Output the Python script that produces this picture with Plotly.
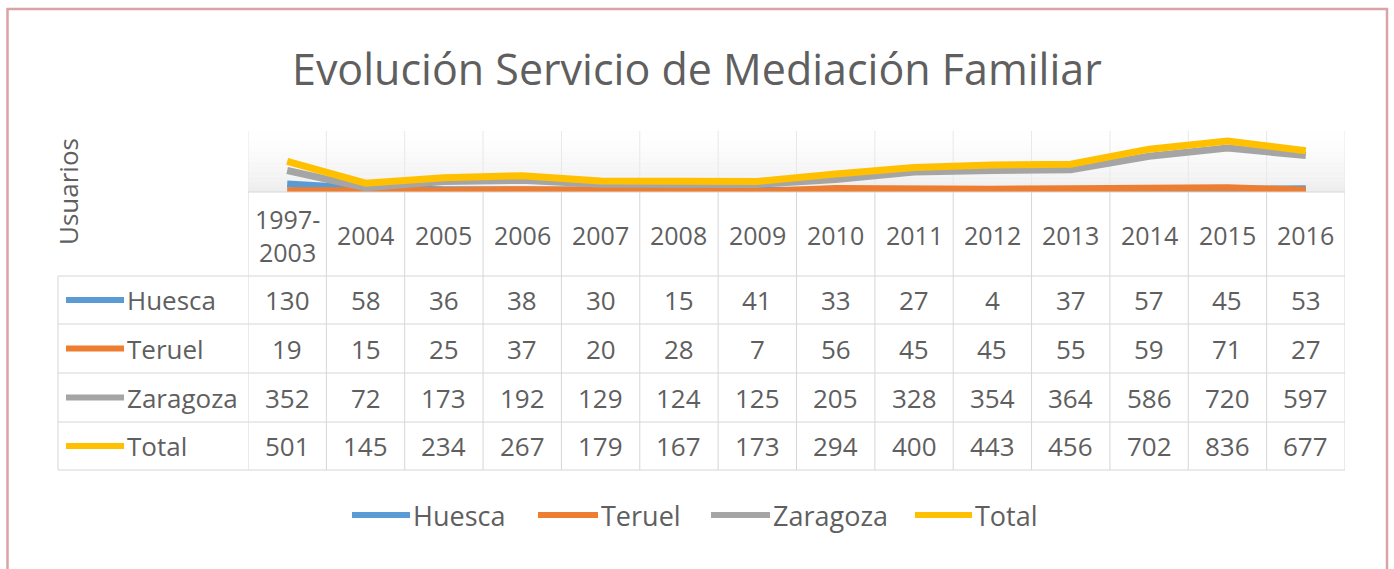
import plotly.graph_objects as go

categories = ["1997-2003", "2004", "2005", "2006", "2007", "2008", "2009",
              "2010", "2011", "2012", "2013", "2014", "2015", "2016"]
header_labels = ["1997-<br>2003", "2004", "2005", "2006", "2007", "2008", "2009",
                 "2010", "2011", "2012", "2013", "2014", "2015", "2016"]
huesca = [130, 58, 36, 38, 30, 15, 41, 33, 27, 4, 37, 57, 45, 53]
teruel = [19, 15, 25, 37, 20, 28, 7, 56, 45, 45, 55, 59, 71, 27]
zaragoza = [352, 72, 173, 192, 129, 124, 125, 205, 328, 354, 364, 586, 720, 597]
total = [501, 145, 234, 267, 179, 167, 173, 294, 400, 443, 456, 702, 836, 677]

series_names = ["Huesca", "Teruel", "Zaragoza", "Total"]
series_values = [huesca, teruel, zaragoza, total]
colors = ["#5B9BD5", "#ED7D31", "#A5A5A5", "#FFC000"]

W, H = 1394, 569
def px(x):
    return x / W
def py(y):
    return 1 - y / H

FONT = "Open Sans"
TXT = "#5f5f5f"
GRID = "#d6d6d6"

plot_left, plot_right = 248, 1345
plot_top, plot_bottom = 131, 192
row_edges = [192, 276, 324, 373, 422, 470]
label_left = 58

fig = go.Figure()
for name, vals, col in zip(series_names, series_values, colors):
    fig.add_trace(go.Scatter(x=categories, y=vals, name=name, mode="lines",
                             line=dict(color=col, width=7), showlegend=False,
                             hoverinfo="x+y+name"))

shapes = []
# gradient plot-area background
nb = 12
for i in range(nb):
    y0 = plot_top + (plot_bottom - plot_top) * i / nb
    y1 = plot_top + (plot_bottom - plot_top) * (i + 1) / nb
    g = int(255 - 18 * ((i + 0.5) / nb) ** 1.5)
    shapes.append(dict(type="rect", xref="paper", yref="paper",
                       x0=px(plot_left), x1=px(plot_right), y0=py(y1), y1=py(y0),
                       fillcolor=f"rgb({g},{g},{g})", line=dict(width=0), layer="below"))
# vertical grid in plot area
for i in range(len(categories) + 1):
    shapes.append(dict(type="line", xref="x", yref="paper", x0=i - 0.5, x1=i - 0.5,
                       y0=py(plot_bottom), y1=py(plot_top),
                       line=dict(color="#e8e8e8", width=1), layer="below"))
# table vertical lines
for i in range(len(categories) + 1):
    shapes.append(dict(type="line", xref="x", yref="paper", x0=i - 0.5, x1=i - 0.5,
                       y0=py(row_edges[-1]), y1=py(row_edges[0]),
                       line=dict(color=GRID, width=1)))
shapes.append(dict(type="line", xref="paper", yref="paper", x0=px(label_left), x1=px(label_left),
                   y0=py(row_edges[-1]), y1=py(row_edges[1]), line=dict(color=GRID, width=1)))
# table horizontal lines
shapes.append(dict(type="line", xref="paper", yref="paper", x0=px(plot_left), x1=px(plot_right),
                   y0=py(row_edges[0]), y1=py(row_edges[0]), line=dict(color=GRID, width=1)))
for ye in row_edges[1:]:
    shapes.append(dict(type="line", xref="paper", yref="paper", x0=px(label_left), x1=px(plot_right),
                       y0=py(ye), y1=py(ye), line=dict(color=GRID, width=1)))

annotations = []
# header
hy = (row_edges[0] + row_edges[1]) / 2 + 1
for i, lab in enumerate(header_labels):
    annotations.append(dict(x=i, xref="x", y=py(hy), yref="paper", text=lab,
                            showarrow=False, font=dict(family=FONT, size=25, color=TXT),
                            xanchor="center", yanchor="middle"))
# rows
for r, (name, vals, col) in enumerate(zip(series_names, series_values, colors)):
    cy = (row_edges[r + 1] + row_edges[r + 2]) / 2
    shapes.append(dict(type="line", xref="paper", yref="paper", x0=px(66), x1=px(124),
                       y0=py(cy), y1=py(cy), line=dict(color=col, width=6)))
    annotations.append(dict(x=px(125), xref="paper", y=py(cy), yref="paper", text=name,
                            showarrow=False, font=dict(family=FONT, size=26, color=TXT),
                            xanchor="left", yanchor="middle"))
    for i, v in enumerate(vals):
        annotations.append(dict(x=i, xref="x", y=py(cy), yref="paper", text=str(v),
                                showarrow=False, font=dict(family=FONT, size=26, color=TXT),
                                xanchor="center", yanchor="middle"))

# bottom legend
leg_y = 515
leg_keys = [(352, 410), (538, 598), (711, 770), (915, 972)]
for (k0, k1), name, col in zip(leg_keys, series_names, colors):
    shapes.append(dict(type="line", xref="paper", yref="paper", x0=px(k0), x1=px(k1),
                       y0=py(leg_y), y1=py(leg_y), line=dict(color=col, width=6)))
    annotations.append(dict(x=px(k1 + 1), xref="paper", y=py(leg_y), yref="paper", text=name,
                            showarrow=False, font=dict(family=FONT, size=27, color=TXT),
                            xanchor="left", yanchor="middle"))

# title
annotations.append(dict(x=px(697), xref="paper", y=py(68), yref="paper",
                        text="Evolución Servicio de Mediación Familiar", showarrow=False,
                        font=dict(family=FONT, size=43, color=TXT),
                        xanchor="center", yanchor="middle"))
# y-axis title
annotations.append(dict(x=px(68), xref="paper", y=py(192), yref="paper", text="Usuarios",
                        textangle=-90, showarrow=False,
                        font=dict(family=FONT, size=26, color=TXT),
                        xanchor="center", yanchor="middle"))

# outer border
shapes.append(dict(type="rect", xref="paper", yref="paper", x0=px(7.5), x1=px(1387),
                   y0=py(620), y1=py(9), line=dict(color="#d9a3a8", width=2.5)))

fig.update_layout(
    width=W, height=H, margin=dict(l=0, r=0, t=0, b=0),
    paper_bgcolor="white", plot_bgcolor="rgba(0,0,0,0)",
    xaxis=dict(domain=[px(plot_left), px(plot_right)], type="category",
               categoryorder="array", categoryarray=categories,
               range=[-0.5, len(categories) - 0.5], showticklabels=False,
               showgrid=False, zeroline=False, showline=False, ticks=""),
    yaxis=dict(domain=[py(plot_bottom), py(plot_top)], range=[0, 1000],
               showticklabels=False, showgrid=False, zeroline=False, showline=False, ticks=""),
    shapes=shapes, annotations=annotations, showlegend=False,
)
fig.write_html("out.html", config={"displayModeBar": False},
               post_script="document.body.style.margin='0';")
